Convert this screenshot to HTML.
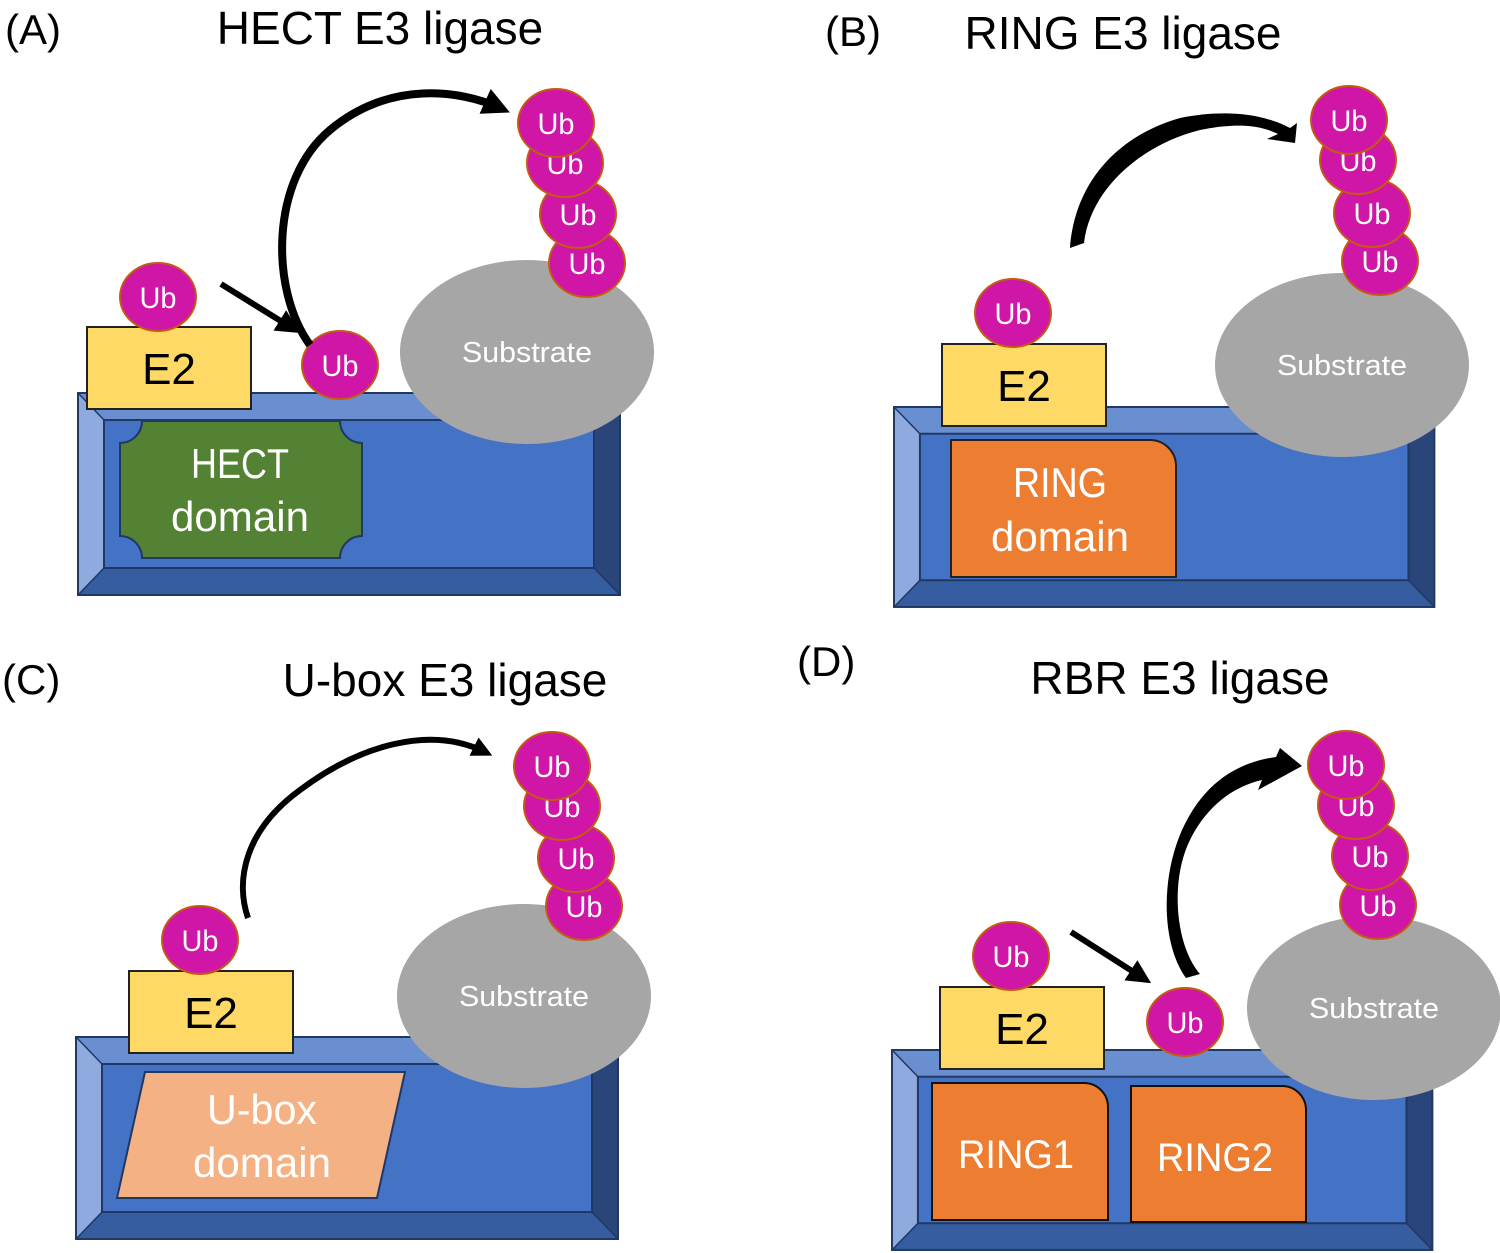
<!DOCTYPE html>
<html><head><meta charset="utf-8"><style>
html,body{margin:0;padding:0;background:#fff;}
svg{display:block;}
text{font-family:"Liberation Sans",sans-serif;}
</style></head><body>
<svg width="1500" height="1253" viewBox="0 0 1500 1253" xmlns="http://www.w3.org/2000/svg">
<defs>
<g id="box">
  <rect x="0" y="0" width="542" height="202" fill="#4472c4"/>
  <polygon points="0,0 542,0 516,27 26,27" fill="#6a8fd0"/>
  <polygon points="0,0 26,27 26,175 0,202" fill="#8eaadf"/>
  <polygon points="542,0 542,202 516,175 516,27" fill="#2a4579"/>
  <polygon points="0,202 26,175 516,175 542,202" fill="#365d9f"/>
  <rect x="0" y="0" width="542" height="202" fill="none" stroke="#1f3864" stroke-width="2"/>
  <rect x="26" y="27" width="490" height="148" fill="none" stroke="#1f3864" stroke-width="2"/>
  <line x1="0" y1="0" x2="26" y2="27" stroke="#1f3864" stroke-width="1.5"/>
  <line x1="542" y1="0" x2="516" y2="27" stroke="#1f3864" stroke-width="1.5"/>
  <line x1="0" y1="202" x2="26" y2="175" stroke="#1f3864" stroke-width="1.5"/>
  <line x1="542" y1="202" x2="516" y2="175" stroke="#1f3864" stroke-width="1.5"/>
</g>
<g id="ub">
  <ellipse cx="0" cy="0" rx="38" ry="34" fill="#cf16a6" stroke="#c55a11" stroke-width="2"/>
  <text x="0" y="11" fill="#fff" font-size="30" text-anchor="middle" font-family="Liberation Sans, sans-serif" textLength="37" lengthAdjust="spacingAndGlyphs">Ub</text>
</g>
<g id="e2">
  <rect x="0" y="0" width="164" height="82" fill="#ffd966" stroke="#222" stroke-width="2"/>
  <text x="82" y="57" font-size="44" text-anchor="middle" fill="#000" font-family="Liberation Sans, sans-serif">E2</text>
</g>
<g id="sub">
  <ellipse cx="0" cy="0" rx="127" ry="92" fill="#a6a6a6"/>
  <text x="0" y="10" font-size="29" text-anchor="middle" fill="#fff" font-family="Liberation Sans, sans-serif" textLength="130" lengthAdjust="spacingAndGlyphs">Substrate</text>
</g>
<marker id="ah" viewBox="0 0 10 10" refX="6" refY="5" markerWidth="4" markerHeight="4" orient="auto"><path d="M0,0 L10,5 L0,10 z" fill="#000"/></marker>
<marker id="ah2" viewBox="0 0 10 10" refX="6" refY="5" markerWidth="3.4" markerHeight="3.4" orient="auto"><path d="M0,0 L10,5 L0,10 z" fill="#000"/></marker>
</defs>

<!-- Titles -->
<text x="5" y="44" font-size="42">(A)</text>
<text x="380" y="44" font-size="46" text-anchor="middle">HECT E3 ligase</text>
<text x="825" y="46" font-size="42">(B)</text>
<text x="1123" y="49" font-size="46" text-anchor="middle">RING E3 ligase</text>
<text x="2" y="694" font-size="42">(C)</text>
<text x="445" y="696" font-size="46" text-anchor="middle">U-box E3 ligase</text>
<text x="797" y="676" font-size="42">(D)</text>
<text x="1180" y="694" font-size="46" text-anchor="middle">RBR E3 ligase</text>

<!-- Panel A -->
<use href="#box" x="78" y="393"/>
<path d="M142,421 L340,421 A22,22 0 0 0 362,443 L362,536 A22,22 0 0 0 340,558 L142,558 A22,22 0 0 0 120,536 L120,443 A22,22 0 0 0 142,421 Z" fill="#548235" stroke="#1f3864" stroke-width="2"/>
<text x="240" y="478" font-size="42" fill="#fff" text-anchor="middle" textLength="98" lengthAdjust="spacingAndGlyphs">HECT</text>
<text x="240" y="531" font-size="42" fill="#fff" text-anchor="middle" textLength="138" lengthAdjust="spacingAndGlyphs">domain</text>
<use href="#sub" x="527" y="352"/>
<use href="#e2" x="87" y="327"/>
<use href="#ub" x="158" y="297"/>
<use href="#ub" x="340" y="365"/>
<use href="#ub" x="587" y="263"/>
<use href="#ub" x="578" y="214"/>
<use href="#ub" x="565" y="163"/>
<use href="#ub" x="556" y="123"/>
<line x1="221" y1="284" x2="292" y2="328" stroke="#000" stroke-width="6" marker-end="url(#ah)"/>
<path d="M310,345 C270,290 270,180 330,130 C390,80 460,90 500,108" fill="none" stroke="#000" stroke-width="8" marker-end="url(#ah2)"/>

<!-- Panel B -->
<use href="#box" x="894" y="407" transform="translate(894 407) scale(0.997 0.99) translate(-894 -407)"/>
<path d="M951,440 L1150,440 A26,26 0 0 1 1176,466 L1176,577 L951,577 Z" fill="#ed7d31" stroke="#222" stroke-width="2"/>
<text x="1060" y="497" font-size="42" fill="#fff" text-anchor="middle" textLength="94" lengthAdjust="spacingAndGlyphs">RING</text>
<text x="1060" y="551" font-size="42" fill="#fff" text-anchor="middle" textLength="138" lengthAdjust="spacingAndGlyphs">domain</text>
<use href="#sub" x="1342" y="365"/>
<use href="#e2" x="942" y="344"/>
<use href="#ub" x="1013" y="313"/>
<use href="#ub" x="1380" y="261"/>
<use href="#ub" x="1372" y="213"/>
<use href="#ub" x="1358" y="160"/>
<use href="#ub" x="1349" y="120"/>
<path d="M1070,248 L1084,243 C1090,190 1140,145 1200,130 C1240,122 1262,126 1278,134 L1267,139 L1295,143 L1297,123 L1290,128 C1260,112 1220,110 1180,118 C1120,135 1075,180 1070,248 Z" fill="#000"/>

<!-- Panel C -->
<use href="#box" x="76" y="1037"/>
<polygon points="145,1072 405,1072 377,1198 117,1198" fill="#f4b183" stroke="#1f3864" stroke-width="2"/>
<text x="262" y="1124" font-size="42" fill="#fff" text-anchor="middle" textLength="110" lengthAdjust="spacingAndGlyphs">U-box</text>
<text x="262" y="1177" font-size="42" fill="#fff" text-anchor="middle" textLength="138" lengthAdjust="spacingAndGlyphs">domain</text>
<use href="#sub" x="524" y="996"/>
<use href="#e2" x="129" y="971"/>
<use href="#ub" x="200" y="940"/>
<use href="#ub" x="584" y="906"/>
<use href="#ub" x="576" y="858"/>
<use href="#ub" x="562" y="806"/>
<use href="#ub" x="552" y="766"/>
<path d="M248,918 C235,880 245,830 300,790 C360,745 430,725 485,752" fill="none" stroke="#000" stroke-width="6" marker-end="url(#ah2)"/>

<!-- Panel D -->
<use href="#box" x="892" y="1050" transform="translate(892 1050) scale(0.997 0.99) translate(-892 -1050)"/>
<path d="M932,1083 L1084,1083 A24,24 0 0 1 1108,1107 L1108,1220 L932,1220 Z" fill="#ed7d31" stroke="#111" stroke-width="2"/>
<path d="M1131,1086 L1282,1086 A24,24 0 0 1 1306,1110 L1306,1222 L1131,1222 Z" fill="#ed7d31" stroke="#111" stroke-width="2"/>
<text x="1016" y="1168" font-size="40" fill="#fff" text-anchor="middle" textLength="116" lengthAdjust="spacingAndGlyphs">RING1</text>
<text x="1215" y="1171" font-size="40" fill="#fff" text-anchor="middle" textLength="116" lengthAdjust="spacingAndGlyphs">RING2</text>
<use href="#sub" x="1374" y="1008"/>
<use href="#e2" x="940" y="987"/>
<use href="#ub" x="1011" y="956"/>
<use href="#ub" x="1185" y="1022"/>
<use href="#ub" x="1378" y="905"/>
<use href="#ub" x="1370" y="856"/>
<use href="#ub" x="1356" y="805"/>
<use href="#ub" x="1346" y="765"/>
<line x1="1071" y1="932" x2="1143" y2="978" stroke="#000" stroke-width="6" marker-end="url(#ah)"/>
<path d="M1186,978 L1200,974 C1175,945 1170,880 1190,840 C1210,800 1240,785 1262,780 L1258,790 L1302,766 L1280,748 L1276,757 C1240,762 1205,780 1182,830 C1160,880 1162,945 1186,978 Z" fill="#000"/>
</svg>
</body></html>
